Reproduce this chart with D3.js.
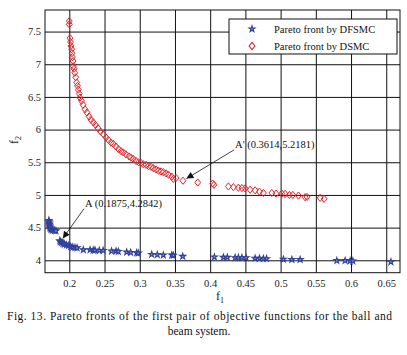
<!DOCTYPE html>
<html>
<head>
<meta charset="utf-8">
<script src="https://cdn.jsdelivr.net/npm/d3@7"></script>
<style>
  body { margin: 0; background: #fff; }
  svg { display: block; font-family: "Liberation Serif", "DejaVu Serif", serif; }
</style>
</head>
<body>
<div id="chart"></div>
<script>
// Pareto front by DSMC (red diamonds)
const dsmcF1 = [0.2, 0.2, 0.201, 0.2017, 0.2024, 0.2034, 0.2038, 0.2045, 0.2053, 0.2057, 0.2067, 0.2078,
  0.2091, 0.2105, 0.2116, 0.2128, 0.2141, 0.2152, 0.2173, 0.2195, 0.2223, 0.2251, 0.228, 0.2308, 0.2341,
  0.2372, 0.2408, 0.2443, 0.2483, 0.2521, 0.2557, 0.2592, 0.2625, 0.2663, 0.2699, 0.2734, 0.2767, 0.2805,
  0.2848, 0.2876, 0.2909, 0.2947, 0.2983, 0.3018, 0.3051, 0.309, 0.3125, 0.3161, 0.3193, 0.3232, 0.3267,
  0.3303, 0.3335, 0.3374, 0.3409, 0.3455, 0.3477, 0.3516, 0.3614, 0.3824, 0.4035, 0.4055, 0.4259, 0.433,
  0.44, 0.445, 0.4496, 0.4567, 0.4638, 0.47, 0.4756, 0.4875, 0.4936, 0.5017, 0.5064, 0.5125, 0.5173,
  0.5253, 0.5348, 0.5375, 0.5561, 0.5618];
const dsmcF2 = [7.66, 7.61, 7.40, 7.34, 7.28, 7.23, 7.17, 7.11, 7.05, 6.97, 6.93, 6.87,
  6.80, 6.72, 6.67, 6.61, 6.55, 6.49, 6.44, 6.38, 6.31, 6.26, 6.20, 6.15, 6.11,
  6.07, 6.02, 5.97, 5.93, 5.88, 5.84, 5.80, 5.78, 5.74, 5.70, 5.67, 5.65, 5.62,
  5.59, 5.57, 5.55, 5.52, 5.50, 5.49, 5.47, 5.46, 5.44, 5.43, 5.41, 5.39, 5.37,
  5.36, 5.35, 5.33, 5.31, 5.28, 5.245, 5.26, 5.2181, 5.19, 5.175, 5.155, 5.13, 5.12,
  5.11, 5.105, 5.10, 5.08, 5.07, 5.05, 5.03, 5.03, 5.02, 5.02, 5.015, 5.0, 5.0,
  4.99, 4.965, 4.97, 4.955, 4.94];

// Pareto front by DFSMC (blue stars)
const dfsmcF1 = [0.171, 0.1712, 0.1715, 0.1718, 0.172, 0.1723, 0.173, 0.174, 0.1755, 0.177, 0.179, 0.181,
  0.1865, 0.1875, 0.189, 0.191, 0.193, 0.196, 0.199, 0.202, 0.205, 0.208, 0.211,
  0.2199, 0.2295, 0.234, 0.2365, 0.2426, 0.248, 0.26, 0.2663, 0.2696, 0.2815, 0.2872, 0.2957, 0.298,
  0.317, 0.325, 0.3335, 0.3455, 0.3477, 0.361, 0.406, 0.4188, 0.4244, 0.4354, 0.44, 0.445, 0.451,
  0.4638, 0.47, 0.4756, 0.48, 0.504, 0.516, 0.5277, 0.5798, 0.5916, 0.5987, 0.6026, 0.6566];
const dfsmcF2 = [4.61, 4.59, 4.57, 4.55, 4.53, 4.51, 4.49, 4.475, 4.465, 4.46, 4.455, 4.45,
  4.30, 4.2842, 4.27, 4.255, 4.245, 4.235, 4.225, 4.21, 4.20, 4.195, 4.19,
  4.16, 4.16, 4.155, 4.155, 4.15, 4.15, 4.14, 4.14, 4.135, 4.125, 4.12, 4.115, 4.11,
  4.09, 4.085, 4.08, 4.08, 4.075, 4.06, 4.05, 4.045, 4.045, 4.04, 4.04, 4.04, 4.04,
  4.03, 4.03, 4.025, 4.025, 4.015, 4.01, 4.01, 3.995, 3.995, 3.99, 3.99, 3.975];

const xTicks = [0.2, 0.25, 0.3, 0.35, 0.4, 0.45, 0.5, 0.55, 0.6, 0.65];
const yTicks = [4, 4.5, 5, 5.5, 6, 6.5, 7, 7.5];
const seriesNames = ['Pareto front by DFSMC', 'Pareto front by DSMC'];

// annotations: label, pointed data point, label position, arrow tail
const notes = [
  {label: 'A (0.1875,4.2842)', pt: [0.1875, 4.2842], at: [0.2223, 4.823], tail: [0.2209, 4.79]},
  {label: "A' (0.3614,5.2181)", pt: [0.3614, 5.2181], at: [0.4354, 5.72], tail: [0.434, 5.69]}
];

const W = 407, H = 355;
const blue = '#2f3f9c', red = '#e0262b';

const svg = d3.select('#chart').append('svg')
  .attr('width', W).attr('height', H);

const x = d3.scaleLinear().domain([0.1655, 0.6695]).range([45, 400]);
const y = d3.scaleLinear().domain([3.81, 7.83]).range([272.7, 10]);

svg.append('defs').append('marker')
  .attr('id', 'arr')
  .attr('viewBox', '0 0 10 10')
  .attr('refX', 10).attr('refY', 5)
  .attr('markerWidth', 9).attr('markerHeight', 7)
  .attr('markerUnits', 'userSpaceOnUse')
  .attr('orient', 'auto')
  .append('path').attr('d', 'M0,0 L10,5 L0,10 Z').attr('fill', '#111');

// grid lines
svg.append('g')
  .attr('transform', `translate(0,${y.range()[0]})`)
  .call(d3.axisBottom(x).tickValues(xTicks).tickSize(-(y.range()[0] - y.range()[1])).tickFormat(d3.format('')))
  .call(g => g.select('.domain').remove())
  .call(g => g.selectAll('.tick line').attr('stroke', '#111').attr('stroke-width', 1))
  .call(g => g.selectAll('.tick text')
    .attr('dy', 0).attr('y', 14)
    .attr('font-size', 10.5).attr('font-family', 'Liberation Serif').attr('fill', '#222'));

svg.append('g')
  .attr('transform', `translate(${x.range()[0]},0)`)
  .call(d3.axisLeft(y).tickValues(yTicks).tickSize(-(x.range()[1] - x.range()[0])).tickFormat(d3.format('')))
  .call(g => g.select('.domain').remove())
  .call(g => g.selectAll('.tick line').attr('stroke', '#111').attr('stroke-width', 1))
  .call(g => g.selectAll('.tick text')
    .attr('x', -4)
    .attr('font-size', 10.5).attr('font-family', 'Liberation Serif').attr('fill', '#222'));

// frame
svg.append('rect')
  .attr('x', x.range()[0]).attr('y', y.range()[1])
  .attr('width', x.range()[1] - x.range()[0])
  .attr('height', y.range()[0] - y.range()[1])
  .attr('fill', 'none').attr('stroke', '#111').attr('stroke-width', 1);

const star = d3.symbol().type(d3.symbolStar).size(11)();
const diamond = 'M0,-3.6L2.9,0L0,3.6L-2.9,0Z';

// DSMC
svg.append('g').selectAll('path')
  .data(d3.zip(dsmcF1, dsmcF2))
  .join('path')
  .attr('d', diamond)
  .attr('transform', d => `translate(${x(d[0])},${y(d[1])})`)
  .attr('fill', 'none').attr('stroke', red).attr('stroke-width', 1);

// DFSMC
svg.append('g').selectAll('path')
  .data(d3.zip(dfsmcF1, dfsmcF2))
  .join('path')
  .attr('d', star)
  .attr('transform', d => `translate(${x(d[0])},${y(d[1])})`)
  .attr('fill', '#8f9ad0').attr('stroke', blue).attr('stroke-width', 1.1);

// annotations
notes.forEach(n => {
  const x1 = x(n.tail[0]), y1 = y(n.tail[1]);
  let x2 = x(n.pt[0]), y2 = y(n.pt[1]);
  const len = Math.hypot(x2 - x1, y2 - y1);
  x2 -= (x2 - x1) / len * 4;
  y2 -= (y2 - y1) / len * 4;
  svg.append('line')
    .attr('x1', x1).attr('y1', y1).attr('x2', x2).attr('y2', y2)
    .attr('stroke', '#111').attr('stroke-width', 0.8)
    .attr('marker-end', 'url(#arr)');
  svg.append('text')
    .attr('x', x(n.at[0])).attr('y', y(n.at[1]))
    .attr('font-size', 10.5).attr('fill', '#111')
    .text(n.label);
});

// legend
const lg = svg.append('g').attr('transform', 'translate(229,19)');
lg.append('rect').attr('width', 168).attr('height', 35)
  .attr('fill', '#fff').attr('stroke', '#111').attr('stroke-width', 1);
seriesNames.forEach((name, i) => {
  const row = lg.append('g').attr('transform', `translate(0,${10 + i * 17})`);
  row.append('path')
    .attr('d', i === 0 ? star : diamond)
    .attr('transform', 'translate(23,0)')
    .attr('fill', i === 0 ? '#8f9ad0' : 'none')
    .attr('stroke', i === 0 ? blue : red).attr('stroke-width', 1.1);
  row.append('text').attr('x', 45).attr('y', 4)
    .attr('font-size', 10.5).attr('fill', '#111').text(name);
});

// axis labels
svg.append('text')
  .attr('x', 220).attr('y', 300)
  .attr('text-anchor', 'middle').attr('font-size', 12).attr('fill', '#222')
  .text('f').append('tspan').attr('font-size', 8).attr('dy', 3).text('1');

svg.append('text')
  .attr('transform', 'translate(18,140) rotate(-90)')
  .attr('text-anchor', 'middle').attr('font-size', 12).attr('fill', '#222')
  .text('f').append('tspan').attr('font-size', 8).attr('dy', 3).text('2');

// caption
const caption = ['Fig. 13. Pareto fronts of the first pair of objective functions for the ball and',
  'beam system.'];
svg.append('text')
  .attr('x', 7).attr('y', 320)
  .attr('font-size', 11.5).attr('fill', '#111')
  .attr('textLength', 385).attr('lengthAdjust', 'spacing')
  .text(caption[0]);
svg.append('text')
  .attr('x', 199).attr('y', 335)
  .attr('text-anchor', 'middle')
  .attr('font-size', 11.5).attr('fill', '#111')
  .text(caption[1]);
</script>
</body>
</html>
